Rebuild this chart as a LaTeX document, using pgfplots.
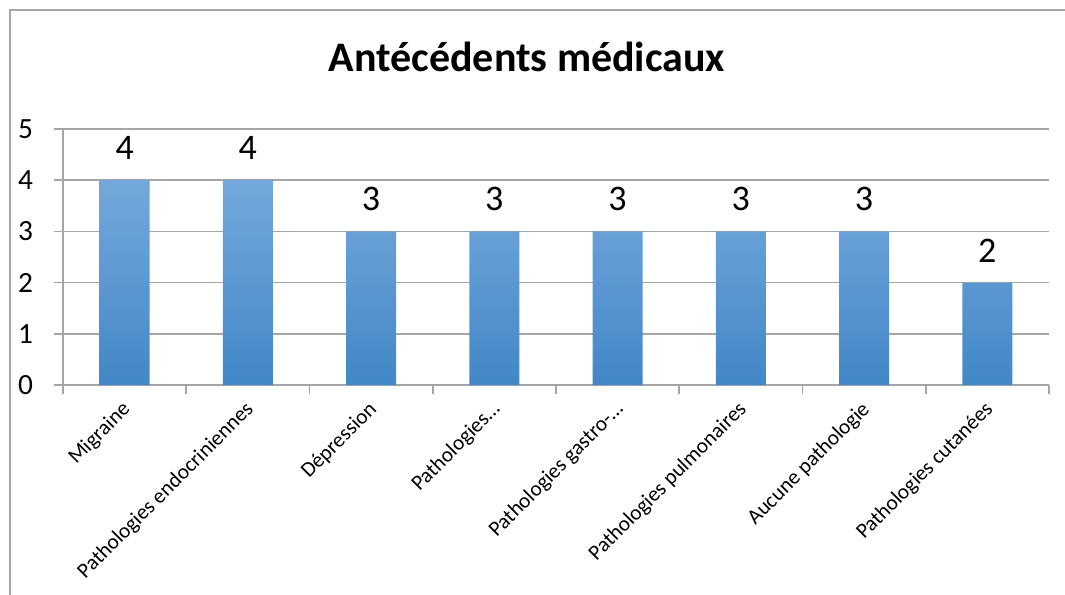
\documentclass[border=0pt]{standalone}
\usepackage{pgfplots}
\pgfplotsset{compat=1.18}
\usepackage{fontspec}
\setmainfont{Carlito}
\definecolor{gridgray}{HTML}{A6A6A6}
\definecolor{bartop}{HTML}{74A8DC}
\definecolor{barbot}{HTML}{4287C7}
\begin{document}
\begin{tikzpicture}
\path[use as bounding box] (-47.25pt,-156.75pt) rectangle (751.5pt,288.75pt);
\draw[gridgray, line width=1.2pt] (-39.75pt,-160pt) -- (-39.75pt,281.25pt) -- (760pt,281.25pt);
\begin{axis}[
  at={(0,0)}, anchor=south west,
  scale only axis,
  width=739.5pt, height=192pt,
  xmin=-0.5, xmax=7.5,
  ymin=0, ymax=5,
  ytick={0,1,2,3,4,5},
  xtick={-0.5,0.5,...,7.5},
  xticklabels={},
  extra x ticks={0,1,2,3,4,5,6,7},
  extra x tick labels={Migraine,Pathologies endocriniennes,Dépression,Pathologies…,Pathologies gastro-…,Pathologies pulmonaires,Aucune pathologie,Pathologies cutanées},
  extra x tick style={major tick length=0pt, grid=none,
    xticklabel style={xshift=2pt, yshift=-16pt, rotate=45, anchor=east, font=\fontsize{16}{19}\selectfont, inner sep=0pt}},
  axis x line*=bottom, axis y line*=left,
  axis line style={gridgray, line width=1.2pt},
  ymajorgrids, major grid style={gridgray, line width=1.2pt},
  tick align=outside,
  major tick length=7pt,
  tick style={gridgray, line width=1.2pt},
  /pgf/number format/assume math mode=true,
  yticklabel style={font=\fontsize{22}{26}\selectfont, xshift=-12pt},
  title={\bfseries Antécédents médicaux},
  title style={font=\fontsize{31.5}{36}\selectfont, at={(axis description cs:0.4706,1)}, anchor=center, yshift=48pt},
  clip=false,
]
\addplot[ybar, bar width=37.5pt, draw=none, top color=bartop, bottom color=barbot,
  nodes near coords,
  every node near coord/.append style={font=\fontsize{27}{32}\selectfont, text=black, anchor=south, inner sep=0pt, yshift=15pt}]
  coordinates {(0,4) (1,4) (2,3) (3,3) (4,3) (5,3) (6,3) (7,2)};
\end{axis}
\end{tikzpicture}
\end{document}
